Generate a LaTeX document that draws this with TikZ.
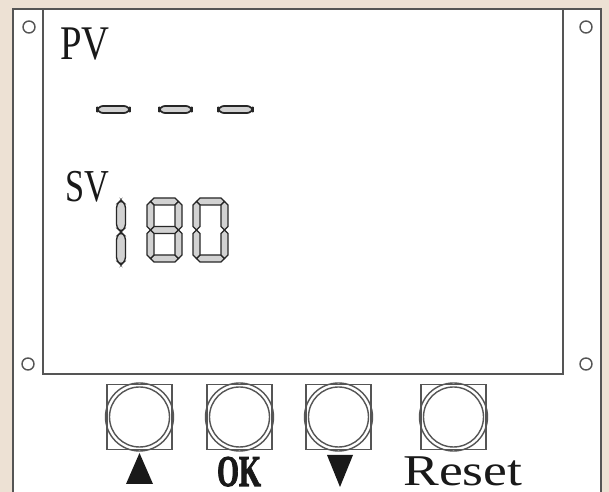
\documentclass[tikz,border=0pt]{standalone}
\usepackage{fontspec}
\setmainfont{Liberation Serif}
\newfontfamily\okfont{Liberation Serif}[UprightFont={* Bold},FakeBold=2.5]
\usetikzlibrary{positioning}
\definecolor{panelbg}{RGB}{237,225,212}
\definecolor{edge}{RGB}{85,85,85}

\begin{document}
\begin{tikzpicture}[x=0.02cm,y=-0.02cm,
  seg/.style={draw=black!85,line width=0.75pt,fill=gray!35},
  btn/.style={draw=edge,line width=0.8pt,minimum size=1.3cm,inner sep=0},
  hole/.style={draw=edge,line width=0.8pt,fill=white},
  lbl/.style={inner sep=0,text=black!90}]
\useasboundingbox (0,0) rectangle (609,492);
\fill[panelbg] (0,0) rectangle (609,492);
\clip (0,0) rectangle (609,492);

% panel and screen
\filldraw[fill=white,draw=edge,line width=0.9pt] (13,9) rectangle (601,520);
\draw[edge,line width=0.9pt] (43,9) rectangle (563,374);

% mounting holes
\foreach \p in {(29,27),(586,27),(586,364),(28,364)}
  \draw[hole] \p circle (6);

% PV line
\node[lbl,anchor=base west] (pv) at (60,60) {\fontsize{27.5}{27.5}\selectfont\scalebox{0.8}[1]{PV}};
\foreach \a/\b in {97/130,159/192,218/253}
  \draw[seg,line width=1pt,rounded corners=3.5] (\a,106) rectangle (\b,113);

% SV line
\node[lbl,anchor=base west] (sv) at (65,202) {\fontsize{26}{26}\selectfont\scalebox{0.75}[1]{SV}};
\foreach \a/\b in {200/232,232/265}
  \draw[seg,rounded corners=2] (121,\a) -- (125.5,\a+4.5) -- (125.5,\b-4.5) -- (121,\b) -- (116.5,\b-4.5) -- (116.5,\a+4.5) -- cycle;
\foreach \a/\b/\y in {150.5/178.5/201.5, 150.5/178.5/230, 150.5/178.5/258.5, 196.5/224.5/201.5, 196.5/224.5/258.5}
  \draw[seg] (\a,\y) -- (\a+3.5,\y-3.5) -- (\b-3.5,\y-3.5) -- (\b,\y) -- (\b-3.5,\y+3.5) -- (\a+3.5,\y+3.5) -- cycle;
\foreach \x/\a/\b in {150.5/201.5/230, 150.5/230/258.5, 178.5/201.5/230, 178.5/230/258.5, 196.5/201.5/230, 196.5/230/258.5, 224.5/201.5/230, 224.5/230/258.5}
  \draw[seg] (\x,\a) -- (\x+3.5,\a+3.5) -- (\x+3.5,\b-3.5) -- (\x,\b) -- (\x-3.5,\b-3.5) -- (\x-3.5,\a+3.5) -- cycle;

% buttons
\node[btn] (up) at (139.5,417) {};
\node[btn] (ok) at (239.5,417) {};
\node[btn] (down) at (338.5,417) {};
\node[btn] (reset) at (453.5,417) {};
\foreach \b in {up,ok,down,reset} {
  \draw[edge,line width=0.8pt] (\b) circle (34);
  \draw[edge,line width=0.8pt] (\b) circle (30);
}

% button labels
\fill[black!90] (126,484) -- (153,484) -- (139.5,453) -- cycle;
\node[lbl,anchor=base] (oklbl) at (239,486) {\okfont\fontsize{25}{25}\selectfont\scalebox{0.64}[1]{OK}};
\fill[black!90] (327,455) -- (353,455) -- (340,487) -- cycle;
\node[lbl,anchor=base west] (resetlbl) at (403,486) {\fontsize{25}{25}\selectfont\scalebox{1.22}[1]{Reset}};
\end{tikzpicture}
\end{document}
